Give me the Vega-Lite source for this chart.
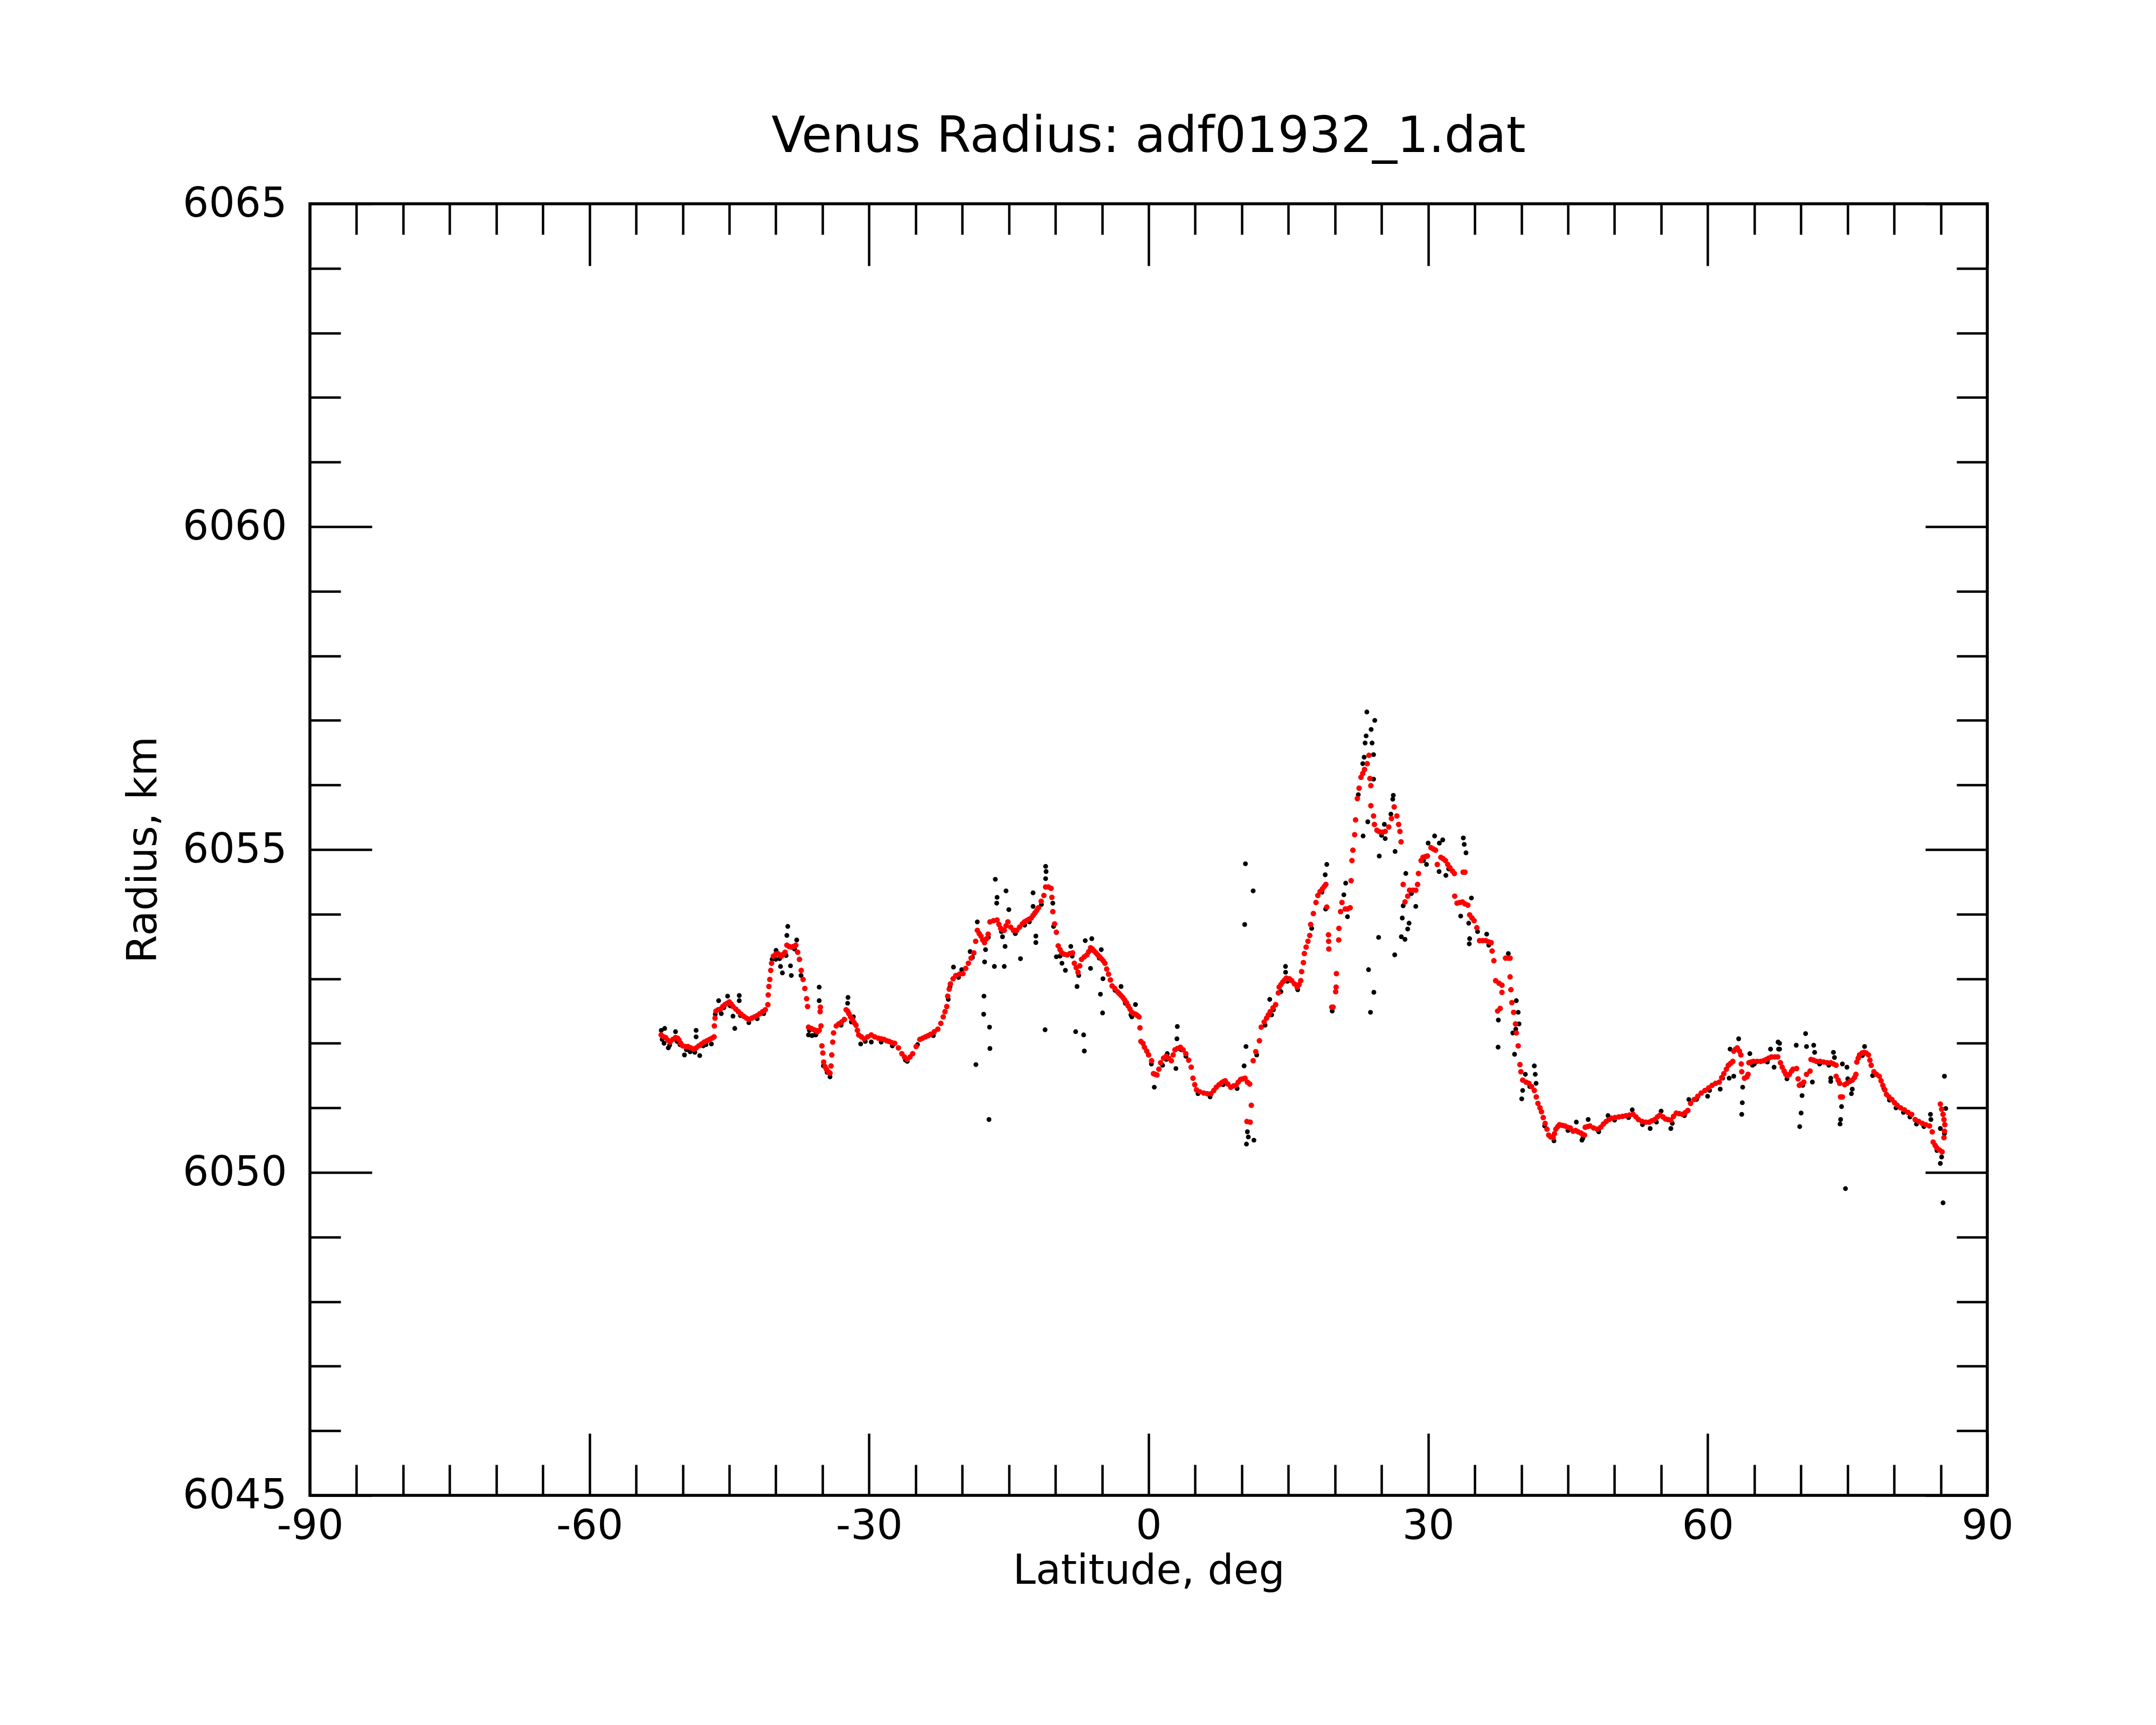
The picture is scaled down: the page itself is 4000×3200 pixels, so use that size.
{
  "$schema": "https://vega.github.io/schema/vega-lite/v6.json",
  "autosize": "none",
  "padding": {"left": 575, "top": 378, "right": 313, "bottom": 426},
  "width": 3112,
  "height": 2396,
  "background": "white",
  "config": {
    "font": "DejaVu Sans",
    "view": {"stroke": "black", "strokeWidth": 5.5},
    "axis": {
      "domain": false, "grid": false, "tickColor": "black", "tickWidth": 4.5,
      "labelColor": "black", "titleColor": "black", "labelFont": "DejaVu Sans", "titleFont": "DejaVu Sans",
      "labelFontSize": 76, "titleFontSize": 76, "titleFontWeight": "normal",
      "labelFlush": false, "labelOverlap": false, "labelLimit": 0
    },
    "point": {"filled": true, "shape": "circle", "opacity": 1, "strokeWidth": 0}
  },
  "title": {
    "text": "Venus Radius: adf01932_1.dat",
    "fontSize": 92, "fontWeight": "normal", "color": "black",
    "anchor": "middle", "frame": "group", "baseline": "alphabetic", "offset": -34
  },
  "datasets": {
    "raw": [
      {"lat":-51.93,"radius":6052.23},{"lat":-50.77,"radius":6052.18},{"lat":-48.56,"radius":6052.2},{"lat":-48.56,"radius":6052.1},
      {"lat":-51.54,"radius":6051.93},{"lat":-49.81,"radius":6051.82},{"lat":-48.17,"radius":6051.81},{"lat":-46.92,"radius":6051.99},
      {"lat":-46.14,"radius":6052.66},{"lat":-45.18,"radius":6052.73},{"lat":-43.93,"radius":6052.74},{"lat":-43.93,"radius":6052.66},
      {"lat":-44.6,"radius":6052.42},{"lat":-44.41,"radius":6052.23},{"lat":-45.86,"radius":6052.46},{"lat":-38.72,"radius":6053.81},
      {"lat":-38.82,"radius":6053.67},{"lat":-37.76,"radius":6053.6},{"lat":-39.5,"radius":6053.19},{"lat":-39.3,"radius":6053.09},
      {"lat":-38.34,"radius":6053.05},{"lat":-38.43,"radius":6053.2},{"lat":-39.98,"radius":6053.44},{"lat":-35.35,"radius":6052.87},
      {"lat":-35.35,"radius":6052.66},{"lat":-36.5,"radius":6052.13},{"lat":-36.12,"radius":6052.12},{"lat":-32.26,"radius":6052.71},
      {"lat":-32.3,"radius":6052.62},{"lat":-31.69,"radius":6052.41},{"lat":-29.76,"radius":6052.02},{"lat":-30.9,"radius":6051.99},
      {"lat":-34.19,"radius":6051.48},{"lat":-52.3,"radius":6052.2},{"lat":-52.0,"radius":6052.0},{"lat":-50.3,"radius":6051.98},
      {"lat":-49.2,"radius":6051.87},{"lat":-47.5,"radius":6051.98},{"lat":-40.0,"radius":6053.3},{"lat":-37.3,"radius":6053.05},
      {"lat":-35.8,"radius":6052.13},{"lat":-34.9,"radius":6051.65},
      {"lat":-16.45,"radius":6054.54},{"lat":-15.3,"radius":6054.36},{"lat":-16.26,"radius":6054.26},{"lat":-16.3,"radius":6054.17},
      {"lat":-15.0,"radius":6054.07},{"lat":-12.4,"radius":6054.33},{"lat":-12.4,"radius":6054.12},{"lat":-11.05,"radius":6054.74},
      {"lat":-11.0,"radius":6054.66},{"lat":-11.05,"radius":6054.55},{"lat":-18.38,"radius":6053.88},{"lat":-17.6,"radius":6053.26},
      {"lat":-16.55,"radius":6053.19},{"lat":-15.49,"radius":6053.19},{"lat":-15.68,"radius":6053.65},{"lat":-15.4,"radius":6053.5},
      {"lat":-13.75,"radius":6053.31},{"lat":-12.1,"radius":6053.66},{"lat":-12.1,"radius":6053.56},{"lat":-17.67,"radius":6052.73},
      {"lat":-17.7,"radius":6052.45},{"lat":-17.07,"radius":6052.25},{"lat":-17.03,"radius":6051.92},{"lat":-18.53,"radius":6051.67},
      {"lat":-17.13,"radius":6050.82},{"lat":-11.11,"radius":6052.21},{"lat":-7.83,"radius":6052.18},{"lat":-6.97,"radius":6052.13},
      {"lat":-6.9,"radius":6051.88},{"lat":-7.68,"radius":6052.88},{"lat":-5.17,"radius":6052.76},{"lat":-4.94,"radius":6052.47},
      {"lat":-4.9,"radius":6053.0},{"lat":-6.23,"radius":6053.16},{"lat":-6.8,"radius":6053.59},{"lat":-6.1,"radius":6053.62},
      {"lat":-5.08,"radius":6053.45},{"lat":-2.96,"radius":6052.88},{"lat":-1.41,"radius":6052.6},{"lat":-1.8,"radius":6052.41},
      {"lat":-8.93,"radius":6053.13},{"lat":-9.3,"radius":6053.24},{"lat":-8.35,"radius":6053.5},{"lat":-9.9,"radius":6053.34},
      {"lat":-20.94,"radius":6053.18},{"lat":-20.06,"radius":6053.14},{"lat":-19.15,"radius":6053.42},{"lat":-10.28,"radius":6054.17},
      {"lat":-10.2,"radius":6053.81},{"lat":-14.3,"radius":6053.7},{"lat":-13.3,"radius":6053.83},{"lat":-25.9,"radius":6051.72},
      {"lat":-21.3,"radius":6052.88},{"lat":-2.5,"radius":6052.62},{"lat":-17.5,"radius":6053.45},
      {"lat":10.39,"radius":6054.78},{"lat":11.22,"radius":6054.36},{"lat":10.31,"radius":6053.84},{"lat":3.08,"radius":6052.26},
      {"lat":3.04,"radius":6052.07},{"lat":0.61,"radius":6051.32},{"lat":2.93,"radius":6051.61},{"lat":10.45,"radius":6051.95},
      {"lat":10.25,"radius":6051.65},{"lat":10.5,"radius":6050.44},{"lat":11.3,"radius":6050.5},{"lat":10.6,"radius":6050.63},
      {"lat":10.7,"radius":6050.55},{"lat":14.69,"radius":6053.19},{"lat":14.7,"radius":6053.1},{"lat":13.0,"radius":6052.68},
      {"lat":19.12,"radius":6054.77},{"lat":18.95,"radius":6054.61},{"lat":21.15,"radius":6054.48},{"lat":20.95,"radius":6054.3},
      {"lat":21.34,"radius":6053.96},{"lat":19.0,"radius":6054.08},{"lat":19.7,"radius":6052.5},{"lat":1.5,"radius":6051.66},
      {"lat":2.0,"radius":6051.84},{"lat":4.0,"radius":6051.8},{"lat":16.0,"radius":6052.83},{"lat":14.2,"radius":6052.8},
      {"lat":12.5,"radius":6052.28},{"lat":13.4,"radius":6052.52},
      {"lat":23.42,"radius":6057.13},{"lat":24.27,"radius":6057.0},{"lat":23.88,"radius":6056.86},{"lat":23.34,"radius":6056.76},
      {"lat":23.23,"radius":6056.65},{"lat":23.98,"radius":6056.65},{"lat":24.14,"radius":6056.47},{"lat":23.13,"radius":6056.43},
      {"lat":22.98,"radius":6056.33},{"lat":24.14,"radius":6056.09},{"lat":26.26,"radius":6055.84},{"lat":26.2,"radius":6055.78},
      {"lat":23.52,"radius":6055.43},{"lat":23.02,"radius":6055.21},{"lat":24.75,"radius":6054.9},{"lat":26.45,"radius":6054.97},
      {"lat":25.39,"radius":6055.17},{"lat":25.3,"radius":6055.39},{"lat":24.68,"radius":6053.64},{"lat":26.41,"radius":6053.37},
      {"lat":23.6,"radius":6053.14},{"lat":24.17,"radius":6052.79},{"lat":23.81,"radius":6052.48},{"lat":27.6,"radius":6054.63},
      {"lat":27.22,"radius":6053.94},{"lat":27.95,"radius":6053.86},{"lat":27.8,"radius":6053.77},{"lat":27.12,"radius":6053.65},
      {"lat":27.51,"radius":6053.61},{"lat":28.67,"radius":6054.12},{"lat":27.32,"radius":6054.13},{"lat":30.69,"radius":6055.21},
      {"lat":31.56,"radius":6055.15},{"lat":33.77,"radius":6055.18},{"lat":33.87,"radius":6055.08},{"lat":34.06,"radius":6054.95},
      {"lat":29.82,"radius":6054.77},{"lat":31.17,"radius":6054.66},{"lat":31.9,"radius":6054.6},{"lat":34.64,"radius":6054.25},
      {"lat":33.49,"radius":6053.97},{"lat":34.35,"radius":6053.86},{"lat":34.45,"radius":6053.62},{"lat":34.41,"radius":6053.54},
      {"lat":36.28,"radius":6053.69},{"lat":38.6,"radius":6053.39},{"lat":39.46,"radius":6052.66},{"lat":39.66,"radius":6052.48},
      {"lat":39.75,"radius":6052.3},{"lat":39.08,"radius":6052.16},{"lat":37.5,"radius":6051.94},{"lat":39.27,"radius":6051.83},
      {"lat":37.53,"radius":6052.36},{"lat":41.39,"radius":6051.65},{"lat":41.49,"radius":6051.52},{"lat":41.58,"radius":6051.38},
      {"lat":40.43,"radius":6051.52},{"lat":40.04,"radius":6051.14},{"lat":40.14,"radius":6051.27},{"lat":30.0,"radius":6055.1},
      {"lat":31.2,"radius":6055.1},{"lat":26.0,"radius":6055.55},
      {"lat":63.32,"radius":6052.07},{"lat":64.52,"radius":6051.84},{"lat":63.75,"radius":6051.32},{"lat":63.71,"radius":6051.08},
      {"lat":63.65,"radius":6050.9},{"lat":67.55,"radius":6052.02},{"lat":67.6,"radius":6051.91},{"lat":66.74,"radius":6051.91},
      {"lat":67.12,"radius":6051.63},{"lat":62.4,"radius":6051.91},{"lat":62.79,"radius":6051.49},{"lat":62.3,"radius":6051.46},
      {"lat":61.34,"radius":6051.29},{"lat":59.99,"radius":6051.18},{"lat":57.97,"radius":6051.13},{"lat":46.5,"radius":6050.5},
      {"lat":56.04,"radius":6050.68},{"lat":53.82,"radius":6050.68},{"lat":45.9,"radius":6050.78},{"lat":47.17,"radius":6050.82},
      {"lat":49.3,"radius":6050.88},{"lat":51.9,"radius":6050.97},{"lat":55.0,"radius":6050.95},{"lat":64.8,"radius":6051.66},
      {"lat":70.5,"radius":6052.15},{"lat":69.5,"radius":6051.97},{"lat":70.6,"radius":6051.95},{"lat":71.37,"radius":6051.97},
      {"lat":71.47,"radius":6051.86},{"lat":67.71,"radius":6052.0},{"lat":67.71,"radius":6051.91},{"lat":70.12,"radius":6051.19},
      {"lat":70.02,"radius":6050.92},{"lat":69.87,"radius":6050.71},{"lat":71.23,"radius":6051.4},{"lat":73.49,"radius":6051.86},
      {"lat":73.6,"radius":6051.78},{"lat":74.45,"radius":6051.68},{"lat":74.94,"radius":6051.63},{"lat":75.03,"radius":6051.45},
      {"lat":73.2,"radius":6051.46},{"lat":73.2,"radius":6051.41},{"lat":75.51,"radius":6051.29},{"lat":75.42,"radius":6051.22},
      {"lat":74.36,"radius":6051.02},{"lat":74.26,"radius":6050.82},{"lat":74.2,"radius":6050.75},{"lat":74.78,"radius":6049.75},
      {"lat":76.83,"radius":6051.95},{"lat":85.4,"radius":6051.49},{"lat":85.25,"radius":6049.53},{"lat":84.96,"radius":6050.14},
      {"lat":85.1,"radius":6050.24},{"lat":83.9,"radius":6050.9},{"lat":83.95,"radius":6050.82},{"lat":85.54,"radius":6050.99},
      {"lat":84.96,"radius":6050.68},{"lat":82.4,"radius":6050.75},{"lat":81.0,"radius":6050.93},{"lat":79.5,"radius":6051.12},
      {"lat":-52.2,"radius":6052.06},{"lat":-51.4,"radius":6051.97},{"lat":-50.6,"radius":6052.03},{"lat":-49.6,"radius":6051.9},
      {"lat":-48.7,"radius":6051.86},{"lat":-47.8,"radius":6051.96},{"lat":-46.5,"radius":6052.45},{"lat":-45.6,"radius":6052.55},
      {"lat":-44.9,"radius":6052.58},{"lat":-43.8,"radius":6052.43},{"lat":-42.9,"radius":6052.32},{"lat":-42.0,"radius":6052.38},
      {"lat":-41.3,"radius":6052.46},{"lat":-40.4,"radius":6053.3},{"lat":-39.6,"radius":6053.31},{"lat":-38.9,"radius":6053.36},
      {"lat":-38.0,"radius":6053.46},{"lat":-36.4,"radius":6052.2},{"lat":-35.7,"radius":6052.13},{"lat":-34.5,"radius":6051.55},
      {"lat":-33.0,"radius":6052.28},{"lat":-31.9,"radius":6052.33},{"lat":-30.4,"radius":6052.03},{"lat":-28.7,"radius":6052.02},
      {"lat":-27.5,"radius":6051.96},{"lat":-26.1,"radius":6051.74},{"lat":-24.8,"radius":6051.98},{"lat":-23.1,"radius":6052.12},
      {"lat":-21.5,"radius":6052.68},{"lat":-20.4,"radius":6053.02},{"lat":-18.9,"radius":6053.33},{"lat":-17.2,"radius":6053.64},
      {"lat":-15.8,"radius":6053.73},{"lat":-14.3,"radius":6053.7},{"lat":-12.8,"radius":6053.88},{"lat":-11.5,"radius":6054.15},
      {"lat":-9.5,"radius":6053.35},{"lat":-8.2,"radius":6053.35},{"lat":-7.5,"radius":6053.05},{"lat":-6.4,"radius":6053.42},
      {"lat":-5.3,"radius":6053.32},{"lat":-3.6,"radius":6052.82},{"lat":-1.9,"radius":6052.44},{"lat":0.3,"radius":6051.68},
      {"lat":1.9,"radius":6051.75},{"lat":3.5,"radius":6051.9},{"lat":5.3,"radius":6051.22},{"lat":6.6,"radius":6051.17},
      {"lat":8.0,"radius":6051.36},{"lat":9.5,"radius":6051.3},{"lat":11.6,"radius":6051.82},{"lat":13.2,"radius":6052.44},
      {"lat":14.9,"radius":6052.96},{"lat":17.5,"radius":6053.78},{"lat":18.6,"radius":6054.34},{"lat":22.5,"radius":6055.85},
      {"lat":25.0,"radius":6055.22},{"lat":28.2,"radius":6054.32},{"lat":29.5,"radius":6054.83},{"lat":32.2,"radius":6054.7},
      {"lat":35.3,"radius":6053.73},{"lat":36.5,"radius":6053.52},{"lat":39.4,"radius":6052.22},{"lat":40.9,"radius":6051.33},
      {"lat":42.5,"radius":6050.72},{"lat":43.5,"radius":6050.49},{"lat":45.0,"radius":6050.65},{"lat":46.6,"radius":6050.53},
      {"lat":48.3,"radius":6050.63},{"lat":50.0,"radius":6050.81},{"lat":51.5,"radius":6050.85},{"lat":53.0,"radius":6050.74},
      {"lat":54.5,"radius":6050.78},{"lat":56.2,"radius":6050.76},{"lat":57.5,"radius":6050.88},{"lat":58.8,"radius":6051.13},
      {"lat":60.2,"radius":6051.27},{"lat":61.6,"radius":6051.46},{"lat":65.0,"radius":6051.68},{"lat":66.4,"radius":6051.71},
      {"lat":68.5,"radius":6051.45},{"lat":70.2,"radius":6051.35},{"lat":72.0,"radius":6051.68},{"lat":73.0,"radius":6051.66},
      {"lat":76.6,"radius":6051.81},{"lat":77.7,"radius":6051.5},{"lat":78.9,"radius":6051.3},{"lat":80.2,"radius":6051.0},
      {"lat":81.7,"radius":6050.86},{"lat":83.2,"radius":6050.71},{"lat":84.6,"radius":6050.34},{"lat":85.4,"radius":6050.6}
    ],
    "smooth": [
      {"lat":-52.31,"radius":6052.13},{"lat":-52.05,"radius":6052.1},{"lat":-51.83,"radius":6052.09},{"lat":-51.6,"radius":6052.05},
      {"lat":-51.35,"radius":6052.02},{"lat":-51.05,"radius":6052.06},{"lat":-50.77,"radius":6052.09},{"lat":-50.55,"radius":6052.08},
      {"lat":-50.39,"radius":6052.05},{"lat":-50.2,"radius":6052.0},{"lat":-50.0,"radius":6051.96},{"lat":-49.7,"radius":6051.95},
      {"lat":-49.42,"radius":6051.95},{"lat":-49.13,"radius":6051.93},{"lat":-48.84,"radius":6051.91},{"lat":-48.55,"radius":6051.93},
      {"lat":-48.27,"radius":6051.96},{"lat":-47.98,"radius":6051.99},{"lat":-47.69,"radius":6052.02},{"lat":-47.4,"radius":6052.04},
      {"lat":-47.11,"radius":6052.06},{"lat":-46.85,"radius":6052.08},{"lat":-46.63,"radius":6052.1},{"lat":-46.6,"radius":6052.27},
      {"lat":-46.53,"radius":6052.39},{"lat":-46.43,"radius":6052.5},{"lat":-46.2,"radius":6052.52},{"lat":-45.95,"radius":6052.53},
      {"lat":-45.7,"radius":6052.57},{"lat":-45.47,"radius":6052.6},{"lat":-45.23,"radius":6052.62},{"lat":-44.99,"radius":6052.64},
      {"lat":-44.8,"radius":6052.61},{"lat":-44.6,"radius":6052.57},{"lat":-44.3,"radius":6052.53},{"lat":-44.02,"radius":6052.49},
      {"lat":-43.73,"radius":6052.45},{"lat":-43.45,"radius":6052.42},{"lat":-43.16,"radius":6052.39},{"lat":-42.87,"radius":6052.37},
      {"lat":-42.58,"radius":6052.39},{"lat":-42.29,"radius":6052.41},{"lat":-42.0,"radius":6052.43},{"lat":-41.71,"radius":6052.46},
      {"lat":-41.42,"radius":6052.49},{"lat":-41.13,"radius":6052.52},{"lat":-40.86,"radius":6052.6},{"lat":-40.82,"radius":6052.75},
      {"lat":-40.75,"radius":6052.88},{"lat":-40.65,"radius":6052.99},{"lat":-40.55,"radius":6053.13},{"lat":-40.46,"radius":6053.24},
      {"lat":-40.27,"radius":6053.35},{"lat":-40.02,"radius":6053.38},{"lat":-39.78,"radius":6053.39},{"lat":-39.6,"radius":6053.37},
      {"lat":-39.4,"radius":6053.35},{"lat":-39.2,"radius":6053.38},{"lat":-39.01,"radius":6053.41},{"lat":-38.82,"radius":6053.52},
      {"lat":-38.58,"radius":6053.5},{"lat":-38.34,"radius":6053.49},{"lat":-38.1,"radius":6053.5},{"lat":-37.86,"radius":6053.52},
      {"lat":-37.66,"radius":6053.41},{"lat":-37.47,"radius":6053.3},{"lat":-37.28,"radius":6053.13},{"lat":-37.08,"radius":6052.99},
      {"lat":-36.89,"radius":6052.85},{"lat":-36.7,"radius":6052.69},{"lat":-36.6,"radius":6052.57},{"lat":-36.5,"radius":6052.25},
      {"lat":-36.2,"radius":6052.23},{"lat":-35.93,"radius":6052.21},{"lat":-35.74,"radius":6052.2},{"lat":-35.54,"radius":6052.18},
      {"lat":-35.35,"radius":6052.2},{"lat":-35.25,"radius":6052.49},{"lat":-35.22,"radius":6052.56},{"lat":-35.16,"radius":6052.27},
      {"lat":-35.06,"radius":6051.96},{"lat":-34.96,"radius":6051.85},{"lat":-34.87,"radius":6051.71},{"lat":-34.72,"radius":6051.64},
      {"lat":-34.58,"radius":6051.6},{"lat":-34.38,"radius":6051.56},{"lat":-34.19,"radius":6051.54},{"lat":-34.08,"radius":6051.65},
      {"lat":-34.0,"radius":6051.82},{"lat":-33.9,"radius":6052.02},{"lat":-33.81,"radius":6052.16},{"lat":-33.52,"radius":6052.27},
      {"lat":-33.25,"radius":6052.3},{"lat":-32.95,"radius":6052.33},{"lat":-32.65,"radius":6052.37},{"lat":-32.46,"radius":6052.52},
      {"lat":-32.3,"radius":6052.5},{"lat":-32.17,"radius":6052.46},{"lat":-31.98,"radius":6052.41},{"lat":-31.78,"radius":6052.37},
      {"lat":-31.6,"radius":6052.32},{"lat":-31.4,"radius":6052.28},{"lat":-31.25,"radius":6052.2},{"lat":-31.11,"radius":6052.13},
      {"lat":-30.82,"radius":6052.1},{"lat":-30.53,"radius":6052.07},{"lat":-30.15,"radius":6052.1},{"lat":-29.76,"radius":6052.13},
      {"lat":-29.4,"radius":6052.1},{"lat":-29.0,"radius":6052.08},{"lat":-28.7,"radius":6052.07},{"lat":-28.4,"radius":6052.06},
      {"lat":-28.1,"radius":6052.04},{"lat":-27.85,"radius":6052.03},{"lat":-27.55,"radius":6052.01},{"lat":-27.25,"radius":6052.0},
      {"lat":-26.85,"radius":6051.93},{"lat":-26.48,"radius":6051.84},{"lat":-26.2,"radius":6051.79},{"lat":-25.9,"radius":6051.75},
      {"lat":-25.6,"radius":6051.79},{"lat":-25.32,"radius":6051.84},{"lat":-24.95,"radius":6051.95},{"lat":-24.55,"radius":6052.06},
      {"lat":-24.25,"radius":6052.08},{"lat":-23.95,"radius":6052.1},{"lat":-23.65,"radius":6052.12},{"lat":-23.39,"radius":6052.14},
      {"lat":-23.0,"radius":6052.18},{"lat":-22.62,"radius":6052.22},{"lat":-22.3,"radius":6052.31},{"lat":-22.04,"radius":6052.41},
      {"lat":-21.85,"radius":6052.49},{"lat":-21.66,"radius":6052.57},{"lat":-21.56,"radius":6052.73},{"lat":-21.4,"radius":6052.84},
      {"lat":-21.27,"radius":6052.92},{"lat":-20.98,"radius":6053.0},{"lat":-20.69,"radius":6053.05},{"lat":-20.3,"radius":6053.07},
      {"lat":-19.92,"radius":6053.08},{"lat":-19.63,"radius":6053.16},{"lat":-19.34,"radius":6053.24},{"lat":-19.05,"radius":6053.32},
      {"lat":-18.76,"radius":6053.4},{"lat":-18.56,"radius":6053.58},{"lat":-18.38,"radius":6053.75},{"lat":-18.18,"radius":6053.7},
      {"lat":-17.99,"radius":6053.66},{"lat":-17.8,"radius":6053.6},{"lat":-17.61,"radius":6053.56},{"lat":-17.4,"radius":6053.62},
      {"lat":-17.22,"radius":6053.69},{"lat":-17.03,"radius":6053.88},{"lat":-16.65,"radius":6053.9},{"lat":-16.26,"radius":6053.91},
      {"lat":-16.06,"radius":6053.84},{"lat":-15.87,"radius":6053.78},{"lat":-15.68,"radius":6053.76},{"lat":-15.49,"radius":6053.75},
      {"lat":-15.3,"radius":6053.82},{"lat":-15.1,"radius":6053.88},{"lat":-14.8,"radius":6053.8},{"lat":-14.52,"radius":6053.75},
      {"lat":-14.33,"radius":6053.75},{"lat":-14.14,"radius":6053.75},{"lat":-13.85,"radius":6053.8},{"lat":-13.56,"radius":6053.85},
      {"lat":-13.33,"radius":6053.88},{"lat":-13.1,"radius":6053.9},{"lat":-12.85,"radius":6053.92},{"lat":-12.6,"radius":6053.94},
      {"lat":-12.4,"radius":6053.98},{"lat":-12.2,"radius":6054.02},{"lat":-12.0,"radius":6054.06},{"lat":-11.82,"radius":6054.1},
      {"lat":-11.53,"radius":6054.2},{"lat":-11.24,"radius":6054.29},{"lat":-11.05,"radius":6054.42},{"lat":-10.75,"radius":6054.42},
      {"lat":-10.47,"radius":6054.4},{"lat":-10.38,"radius":6054.26},{"lat":-10.28,"radius":6054.04},{"lat":-10.09,"radius":6053.85},
      {"lat":-9.9,"radius":6053.72},{"lat":-9.7,"radius":6053.51},{"lat":-9.5,"radius":6053.45},{"lat":-9.32,"radius":6053.4},
      {"lat":-9.03,"radius":6053.38},{"lat":-8.74,"radius":6053.37},{"lat":-8.45,"radius":6053.39},{"lat":-8.16,"radius":6053.4},
      {"lat":-7.97,"radius":6053.24},{"lat":-7.77,"radius":6053.17},{"lat":-7.58,"radius":6053.1},{"lat":-7.39,"radius":6053.2},
      {"lat":-7.2,"radius":6053.3},{"lat":-6.9,"radius":6053.34},{"lat":-6.62,"radius":6053.37},{"lat":-6.43,"radius":6053.42},
      {"lat":-6.23,"radius":6053.48},{"lat":-6.04,"radius":6053.46},{"lat":-5.85,"radius":6053.43},{"lat":-5.65,"radius":6053.4},
      {"lat":-5.46,"radius":6053.37},{"lat":-5.27,"radius":6053.34},{"lat":-5.08,"radius":6053.31},{"lat":-4.88,"radius":6053.28},
      {"lat":-4.69,"radius":6053.24},{"lat":-4.5,"radius":6053.15},{"lat":-4.3,"radius":6053.07},{"lat":-4.1,"radius":6052.98},
      {"lat":-3.92,"radius":6052.89},{"lat":-3.63,"radius":6052.85},{"lat":-3.34,"radius":6052.8},{"lat":-3.15,"radius":6052.77},
      {"lat":-2.95,"radius":6052.74},{"lat":-2.76,"radius":6052.71},{"lat":-2.57,"radius":6052.67},{"lat":-2.38,"radius":6052.63},
      {"lat":-2.2,"radius":6052.58},{"lat":-2.0,"radius":6052.53},{"lat":-1.8,"radius":6052.48},{"lat":-1.6,"radius":6052.46},
      {"lat":-1.4,"radius":6052.45},{"lat":-1.2,"radius":6052.43},{"lat":-1.03,"radius":6052.41},{"lat":-0.93,"radius":6052.24},
      {"lat":-0.83,"radius":6052.03},{"lat":-0.6,"radius":6052.0},{"lat":-0.45,"radius":6051.94},{"lat":-0.2,"radius":6051.88},
      {"lat":0.0,"radius":6051.82},{"lat":0.32,"radius":6051.73},{"lat":0.52,"radius":6051.53},{"lat":0.7,"radius":6051.52},
      {"lat":0.9,"radius":6051.51},{"lat":1.1,"radius":6051.6},{"lat":1.29,"radius":6051.7},{"lat":1.6,"radius":6051.77},
      {"lat":1.87,"radius":6051.8},{"lat":2.15,"radius":6051.77},{"lat":2.44,"radius":6051.73},{"lat":2.63,"radius":6051.82},
      {"lat":2.83,"radius":6051.9},{"lat":3.1,"radius":6051.92},{"lat":3.41,"radius":6051.94},{"lat":3.7,"radius":6051.9},
      {"lat":3.99,"radius":6051.84},{"lat":4.3,"radius":6051.74},{"lat":4.57,"radius":6051.63},{"lat":4.76,"radius":6051.46},
      {"lat":4.95,"radius":6051.36},{"lat":5.14,"radius":6051.28},{"lat":5.5,"radius":6051.25},{"lat":5.92,"radius":6051.23},
      {"lat":6.3,"radius":6051.22},{"lat":6.69,"radius":6051.22},{"lat":7.0,"radius":6051.27},{"lat":7.26,"radius":6051.32},
      {"lat":7.55,"radius":6051.36},{"lat":7.84,"radius":6051.39},{"lat":8.05,"radius":6051.41},{"lat":8.23,"radius":6051.42},
      {"lat":8.5,"radius":6051.37},{"lat":8.81,"radius":6051.32},{"lat":9.1,"radius":6051.34},{"lat":9.38,"radius":6051.35},
      {"lat":9.62,"radius":6051.4},{"lat":9.87,"radius":6051.44},{"lat":10.1,"radius":6051.45},{"lat":10.35,"radius":6051.46},
      {"lat":10.6,"radius":6051.4},{"lat":10.85,"radius":6051.37},{"lat":11.02,"radius":6051.04},{"lat":10.55,"radius":6050.79},
      {"lat":10.9,"radius":6050.78},{"lat":11.22,"radius":6051.73},{"lat":11.5,"radius":6051.87},{"lat":11.89,"radius":6052.04},
      {"lat":12.08,"radius":6052.25},{"lat":12.4,"radius":6052.33},{"lat":12.66,"radius":6052.39},{"lat":12.85,"radius":6052.44},
      {"lat":13.05,"radius":6052.49},{"lat":13.35,"radius":6052.55},{"lat":13.63,"radius":6052.6},{"lat":13.92,"radius":6052.78},
      {"lat":14.01,"radius":6052.87},{"lat":14.2,"radius":6052.91},{"lat":14.4,"radius":6052.95},{"lat":14.6,"radius":6052.98},
      {"lat":14.78,"radius":6053.01},{"lat":15.1,"radius":6053.0},{"lat":15.36,"radius":6052.97},{"lat":15.65,"radius":6052.92},
      {"lat":15.94,"radius":6052.87},{"lat":16.15,"radius":6052.91},{"lat":16.33,"radius":6052.97},{"lat":16.42,"radius":6053.11},
      {"lat":16.61,"radius":6053.25},{"lat":16.71,"radius":6053.39},{"lat":16.9,"radius":6053.49},{"lat":17.1,"radius":6053.58},
      {"lat":17.29,"radius":6053.67},{"lat":17.39,"radius":6053.84},{"lat":17.68,"radius":6054.01},{"lat":17.96,"radius":6054.18},
      {"lat":18.16,"radius":6054.29},{"lat":18.4,"radius":6054.35},{"lat":18.64,"radius":6054.39},{"lat":18.85,"radius":6054.43},
      {"lat":19.02,"radius":6054.46},{"lat":19.12,"radius":6054.11},{"lat":19.3,"radius":6053.68},{"lat":19.32,"radius":6053.58},
      {"lat":19.34,"radius":6053.46},{"lat":19.65,"radius":6052.56},{"lat":19.8,"radius":6052.56},{"lat":20.07,"radius":6052.8},
      {"lat":20.12,"radius":6052.87},{"lat":20.15,"radius":6053.08},{"lat":20.4,"radius":6053.6},{"lat":20.42,"radius":6053.78},
      {"lat":20.6,"radius":6054.04},{"lat":20.75,"radius":6054.18},{"lat":21.1,"radius":6054.08},{"lat":21.34,"radius":6054.08},
      {"lat":21.63,"radius":6054.1},{"lat":21.73,"radius":6054.52},{"lat":21.82,"radius":6054.83},{"lat":21.92,"radius":6054.99},
      {"lat":22.11,"radius":6055.23},{"lat":22.21,"radius":6055.46},{"lat":22.4,"radius":6055.79},{"lat":22.59,"radius":6055.95},
      {"lat":22.79,"radius":6056.12},{"lat":22.98,"radius":6056.18},{"lat":23.17,"radius":6056.24},{"lat":23.46,"radius":6056.33},
      {"lat":23.65,"radius":6056.46},{"lat":23.75,"radius":6056.1},{"lat":23.85,"radius":6055.99},{"lat":23.85,"radius":6055.68},
      {"lat":24.14,"radius":6055.52},{"lat":24.23,"radius":6055.39},{"lat":24.5,"radius":6055.3},{"lat":24.71,"radius":6055.28},
      {"lat":25.05,"radius":6055.27},{"lat":25.39,"radius":6055.28},{"lat":25.77,"radius":6055.35},{"lat":26.06,"radius":6055.48},
      {"lat":26.35,"radius":6055.66},{"lat":26.64,"radius":6055.52},{"lat":26.83,"radius":6055.39},{"lat":26.97,"radius":6055.28},
      {"lat":27.09,"radius":6055.12},{"lat":27.32,"radius":6054.46},{"lat":27.51,"radius":6054.19},{"lat":27.8,"radius":6054.28},
      {"lat":28.0,"radius":6054.37},{"lat":28.35,"radius":6054.37},{"lat":28.67,"radius":6054.37},{"lat":28.86,"radius":6054.46},
      {"lat":28.96,"radius":6054.63},{"lat":29.24,"radius":6054.83},{"lat":29.44,"radius":6054.88},{"lat":29.7,"radius":6054.89},
      {"lat":29.92,"radius":6054.9},{"lat":30.3,"radius":6055.03},{"lat":30.55,"radius":6055.01},{"lat":30.79,"radius":6054.99},
      {"lat":30.98,"radius":6054.77},{"lat":31.36,"radius":6054.88},{"lat":31.6,"radius":6054.86},{"lat":31.85,"radius":6054.83},
      {"lat":32.1,"radius":6054.77},{"lat":32.33,"radius":6054.72},{"lat":32.6,"radius":6054.67},{"lat":32.81,"radius":6054.63},
      {"lat":33.75,"radius":6054.65},{"lat":33.95,"radius":6054.65},{"lat":32.85,"radius":6054.28},{"lat":33.1,"radius":6054.17},
      {"lat":33.4,"radius":6054.18},{"lat":33.68,"radius":6054.19},{"lat":33.95,"radius":6054.16},{"lat":34.26,"radius":6054.14},
      {"lat":34.45,"radius":6053.99},{"lat":34.7,"radius":6053.94},{"lat":34.93,"radius":6053.9},{"lat":35.22,"radius":6053.79},
      {"lat":35.51,"radius":6053.59},{"lat":35.85,"radius":6053.59},{"lat":36.18,"radius":6053.59},{"lat":36.5,"radius":6053.57},
      {"lat":36.76,"radius":6053.56},{"lat":36.86,"radius":6053.43},{"lat":37.05,"radius":6053.28},{"lat":37.24,"radius":6052.97},
      {"lat":37.6,"radius":6052.93},{"lat":37.92,"radius":6052.9},{"lat":37.92,"radius":6052.79},{"lat":37.73,"radius":6052.54},
      {"lat":37.45,"radius":6052.5},{"lat":38.3,"radius":6053.32},{"lat":38.55,"radius":6053.32},{"lat":38.79,"radius":6053.32},
      {"lat":38.79,"radius":6053.03},{"lat":38.88,"radius":6052.83},{"lat":38.98,"radius":6052.63},{"lat":39.17,"radius":6052.48},
      {"lat":39.37,"radius":6052.3},{"lat":39.46,"radius":6052.16},{"lat":39.66,"radius":6051.96},{"lat":39.85,"radius":6051.67},
      {"lat":39.95,"radius":6051.56},{"lat":40.14,"radius":6051.43},{"lat":40.5,"radius":6051.4},{"lat":40.81,"radius":6051.38},
      {"lat":41.1,"radius":6051.33},{"lat":41.39,"radius":6051.27},{"lat":41.6,"radius":6051.17},{"lat":41.78,"radius":6051.07},
      {"lat":42.0,"radius":6051.0},{"lat":42.16,"radius":6050.94},{"lat":42.35,"radius":6050.85},{"lat":42.55,"radius":6050.76},
      {"lat":42.75,"radius":6050.67},{"lat":42.93,"radius":6050.58},{"lat":43.15,"radius":6050.55},{"lat":43.41,"radius":6050.54},
      {"lat":43.55,"radius":6050.6},{"lat":43.7,"radius":6050.67},{"lat":43.9,"radius":6050.71},{"lat":44.09,"radius":6050.74},
      {"lat":44.4,"radius":6050.73},{"lat":44.67,"radius":6050.72},{"lat":44.95,"radius":6050.7},{"lat":45.25,"radius":6050.69},
      {"lat":45.55,"radius":6050.64},{"lat":45.82,"radius":6050.65},{"lat":46.1,"radius":6050.63},{"lat":46.4,"radius":6050.61},
      {"lat":46.6,"radius":6050.59},{"lat":46.78,"radius":6050.58},{"lat":46.85,"radius":6050.7},{"lat":47.1,"radius":6050.71},
      {"lat":47.36,"radius":6050.72},{"lat":47.75,"radius":6050.69},{"lat":48.13,"radius":6050.67},{"lat":48.52,"radius":6050.7},
      {"lat":48.8,"radius":6050.75},{"lat":49.1,"radius":6050.79},{"lat":49.4,"radius":6050.82},{"lat":49.68,"radius":6050.84},
      {"lat":50.05,"radius":6050.85},{"lat":50.45,"radius":6050.86},{"lat":50.85,"radius":6050.87},{"lat":51.22,"radius":6050.88},
      {"lat":51.6,"radius":6050.89},{"lat":51.99,"radius":6050.9},{"lat":52.3,"radius":6050.86},{"lat":52.57,"radius":6050.82},
      {"lat":52.95,"radius":6050.79},{"lat":53.35,"radius":6050.78},{"lat":53.72,"radius":6050.78},{"lat":54.0,"radius":6050.8},
      {"lat":54.3,"radius":6050.82},{"lat":54.6,"radius":6050.86},{"lat":54.88,"radius":6050.89},{"lat":55.2,"radius":6050.86},
      {"lat":55.46,"radius":6050.83},{"lat":55.75,"radius":6050.82},{"lat":56.04,"radius":6050.81},{"lat":56.33,"radius":6050.87},
      {"lat":56.62,"radius":6050.92},{"lat":56.95,"radius":6050.91},{"lat":57.29,"radius":6050.9},{"lat":57.6,"radius":6050.93},
      {"lat":57.87,"radius":6050.96},{"lat":58.16,"radius":6051.07},{"lat":58.55,"radius":6051.13},{"lat":58.93,"radius":6051.18},
      {"lat":59.3,"radius":6051.23},{"lat":59.7,"radius":6051.27},{"lat":60.1,"radius":6051.31},{"lat":60.47,"radius":6051.35},
      {"lat":60.85,"radius":6051.38},{"lat":61.24,"radius":6051.4},{"lat":61.5,"radius":6051.47},{"lat":61.73,"radius":6051.53},
      {"lat":62.0,"radius":6051.6},{"lat":62.21,"radius":6051.66},{"lat":62.45,"radius":6051.69},{"lat":62.69,"radius":6051.72},
      {"lat":62.79,"radius":6051.88},{"lat":63.0,"radius":6051.91},{"lat":63.17,"radius":6051.93},{"lat":63.4,"radius":6051.88},
      {"lat":63.56,"radius":6051.82},{"lat":63.6,"radius":6051.68},{"lat":63.65,"radius":6051.56},{"lat":63.94,"radius":6051.46},
      {"lat":64.2,"radius":6051.48},{"lat":64.33,"radius":6051.52},{"lat":64.42,"radius":6051.7},{"lat":64.65,"radius":6051.71},
      {"lat":64.91,"radius":6051.72},{"lat":65.3,"radius":6051.72},{"lat":65.68,"radius":6051.72},{"lat":66.0,"radius":6051.73},
      {"lat":66.26,"radius":6051.75},{"lat":66.55,"radius":6051.77},{"lat":66.83,"radius":6051.79},{"lat":67.2,"radius":6051.79},
      {"lat":67.51,"radius":6051.79},{"lat":67.8,"radius":6051.7},{"lat":67.99,"radius":6051.63},{"lat":68.2,"radius":6051.57},
      {"lat":68.38,"radius":6051.52},{"lat":68.57,"radius":6051.5},{"lat":68.77,"radius":6051.52},{"lat":69.0,"radius":6051.57},
      {"lat":69.15,"radius":6051.6},{"lat":69.54,"radius":6051.61},{"lat":69.7,"radius":6051.45},{"lat":69.83,"radius":6051.35},
      {"lat":70.05,"radius":6051.37},{"lat":70.31,"radius":6051.4},{"lat":70.6,"radius":6051.52},{"lat":70.98,"radius":6051.57},
      {"lat":71.08,"radius":6051.75},{"lat":71.35,"radius":6051.74},{"lat":71.66,"radius":6051.72},{"lat":72.05,"radius":6051.72},
      {"lat":72.43,"radius":6051.71},{"lat":72.8,"radius":6051.7},{"lat":73.2,"radius":6051.7},{"lat":73.5,"radius":6051.68},
      {"lat":73.78,"radius":6051.66},{"lat":73.78,"radius":6051.49},{"lat":74.0,"radius":6051.43},{"lat":74.16,"radius":6051.38},
      {"lat":74.25,"radius":6051.17},{"lat":74.45,"radius":6051.17},{"lat":74.7,"radius":6051.36},{"lat":74.94,"radius":6051.38},
      {"lat":75.25,"radius":6051.41},{"lat":75.51,"radius":6051.43},{"lat":75.75,"radius":6051.47},{"lat":75.9,"radius":6051.52},
      {"lat":76.0,"radius":6051.71},{"lat":76.15,"radius":6051.77},{"lat":76.29,"radius":6051.82},{"lat":76.55,"radius":6051.85},
      {"lat":76.77,"radius":6051.86},{"lat":77.0,"radius":6051.85},{"lat":77.25,"radius":6051.82},{"lat":77.4,"radius":6051.74},
      {"lat":77.54,"radius":6051.66},{"lat":77.83,"radius":6051.56},{"lat":78.1,"radius":6051.52},{"lat":78.41,"radius":6051.49},
      {"lat":78.6,"radius":6051.42},{"lat":78.79,"radius":6051.35},{"lat":79.0,"radius":6051.28},{"lat":79.18,"radius":6051.21},
      {"lat":79.45,"radius":6051.17},{"lat":79.76,"radius":6051.13},{"lat":80.05,"radius":6051.08},{"lat":80.33,"radius":6051.04},
      {"lat":80.7,"radius":6051.0},{"lat":81.1,"radius":6050.97},{"lat":81.5,"radius":6050.93},{"lat":81.88,"radius":6050.9},
      {"lat":82.26,"radius":6050.82},{"lat":82.65,"radius":6050.79},{"lat":83.03,"radius":6050.76},{"lat":83.4,"radius":6050.74},
      {"lat":83.8,"radius":6050.72},{"lat":84.09,"radius":6050.63},{"lat":84.19,"radius":6050.47},{"lat":84.4,"radius":6050.42},
      {"lat":84.58,"radius":6050.38},{"lat":84.85,"radius":6050.35},{"lat":85.15,"radius":6050.32},{"lat":85.35,"radius":6050.54},
      {"lat":85.4,"radius":6050.64},{"lat":85.44,"radius":6050.74},{"lat":85.35,"radius":6050.82},{"lat":85.25,"radius":6050.9},
      {"lat":85.1,"radius":6050.98},{"lat":84.96,"radius":6051.06}
    ]
  },
  "layer": [
    {
      "data": {"name": "raw"},
      "mark": {"type": "point", "color": "black", "size": 80},
      "encoding": {
        "x": {
          "field": "lat", "type": "quantitative",
          "scale": {"domain": [-90, 90], "nice": false, "zero": false},
          "axis": {"orient": "bottom", "values": [-90, -60, -30, 0, 30, 60, 90], "ticks": false,
                   "labelPadding": 20, "labelExpr": "'' + datum.value", "title": "Latitude, deg", "titlePadding": 8}
        },
        "y": {
          "field": "radius", "type": "quantitative",
          "scale": {"domain": [6045, 6065], "nice": false, "zero": false},
          "axis": {"orient": "left", "values": [6045, 6050, 6055, 6060, 6065], "ticks": false,
                   "labelPadding": 43, "labelExpr": "'' + datum.value", "title": "Radius, km", "titlePadding": 70}
        }
      }
    },
    {
      "data": {"name": "smooth"},
      "mark": {"type": "point", "color": "#ff0000", "size": 105},
      "encoding": {
        "x": {
          "field": "lat", "type": "quantitative",
          "scale": {"domain": [-90, 90], "nice": false, "zero": false},
          "axis": {"orient": "bottom", "values": [-90, -60, -30, 0, 30, 60, 90], "labels": false, "tickSize": -115, "title": null}
        },
        "y": {
          "field": "radius", "type": "quantitative",
          "scale": {"domain": [6045, 6065], "nice": false, "zero": false},
          "axis": {"orient": "left", "values": [6045, 6050, 6055, 6060, 6065], "labels": false, "tickSize": -115, "title": null}
        }
      }
    },
    {
      "data": {"values": []},
      "mark": {"type": "point"},
      "encoding": {
        "x": {
          "field": "lat", "type": "quantitative",
          "scale": {"domain": [-90, 90], "nice": false, "zero": false},
          "axis": {"orient": "bottom", "values": [-85, -80, -75, -70, -65, -55, -50, -45, -40, -35, -25, -20, -15, -10, -5, 5, 10, 15, 20, 25, 35, 40, 45, 50, 55, 65, 70, 75, 80, 85],
                   "labels": false, "tickSize": -57, "title": null}
        },
        "y": {
          "field": "radius", "type": "quantitative",
          "scale": {"domain": [6045, 6065], "nice": false, "zero": false},
          "axis": {"orient": "left", "values": [6046, 6047, 6048, 6049, 6051, 6052, 6053, 6054, 6056, 6057, 6058, 6059, 6061, 6062, 6063, 6064],
                   "labels": false, "tickSize": -57, "title": null}
        }
      }
    },
    {
      "data": {"values": []},
      "mark": {"type": "point"},
      "encoding": {
        "x": {
          "field": "lat", "type": "quantitative",
          "scale": {"domain": [-90, 90], "nice": false, "zero": false},
          "axis": {"orient": "top", "values": [-90, -60, -30, 0, 30, 60, 90], "labels": false, "tickSize": -115, "title": null}
        },
        "y": {
          "field": "radius", "type": "quantitative",
          "scale": {"domain": [6045, 6065], "nice": false, "zero": false},
          "axis": {"orient": "right", "values": [6045, 6050, 6055, 6060, 6065], "labels": false, "tickSize": -115, "title": null}
        }
      }
    },
    {
      "data": {"values": []},
      "mark": {"type": "point"},
      "encoding": {
        "x": {
          "field": "lat", "type": "quantitative",
          "scale": {"domain": [-90, 90], "nice": false, "zero": false},
          "axis": {"orient": "top", "values": [-85, -80, -75, -70, -65, -55, -50, -45, -40, -35, -25, -20, -15, -10, -5, 5, 10, 15, 20, 25, 35, 40, 45, 50, 55, 65, 70, 75, 80, 85],
                   "labels": false, "tickSize": -57, "title": null}
        },
        "y": {
          "field": "radius", "type": "quantitative",
          "scale": {"domain": [6045, 6065], "nice": false, "zero": false},
          "axis": {"orient": "right", "values": [6046, 6047, 6048, 6049, 6051, 6052, 6053, 6054, 6056, 6057, 6058, 6059, 6061, 6062, 6063, 6064],
                   "labels": false, "tickSize": -57, "title": null}
        }
      }
    }
  ],
  "resolve": {"axis": {"x": "independent", "y": "independent"}}
}
